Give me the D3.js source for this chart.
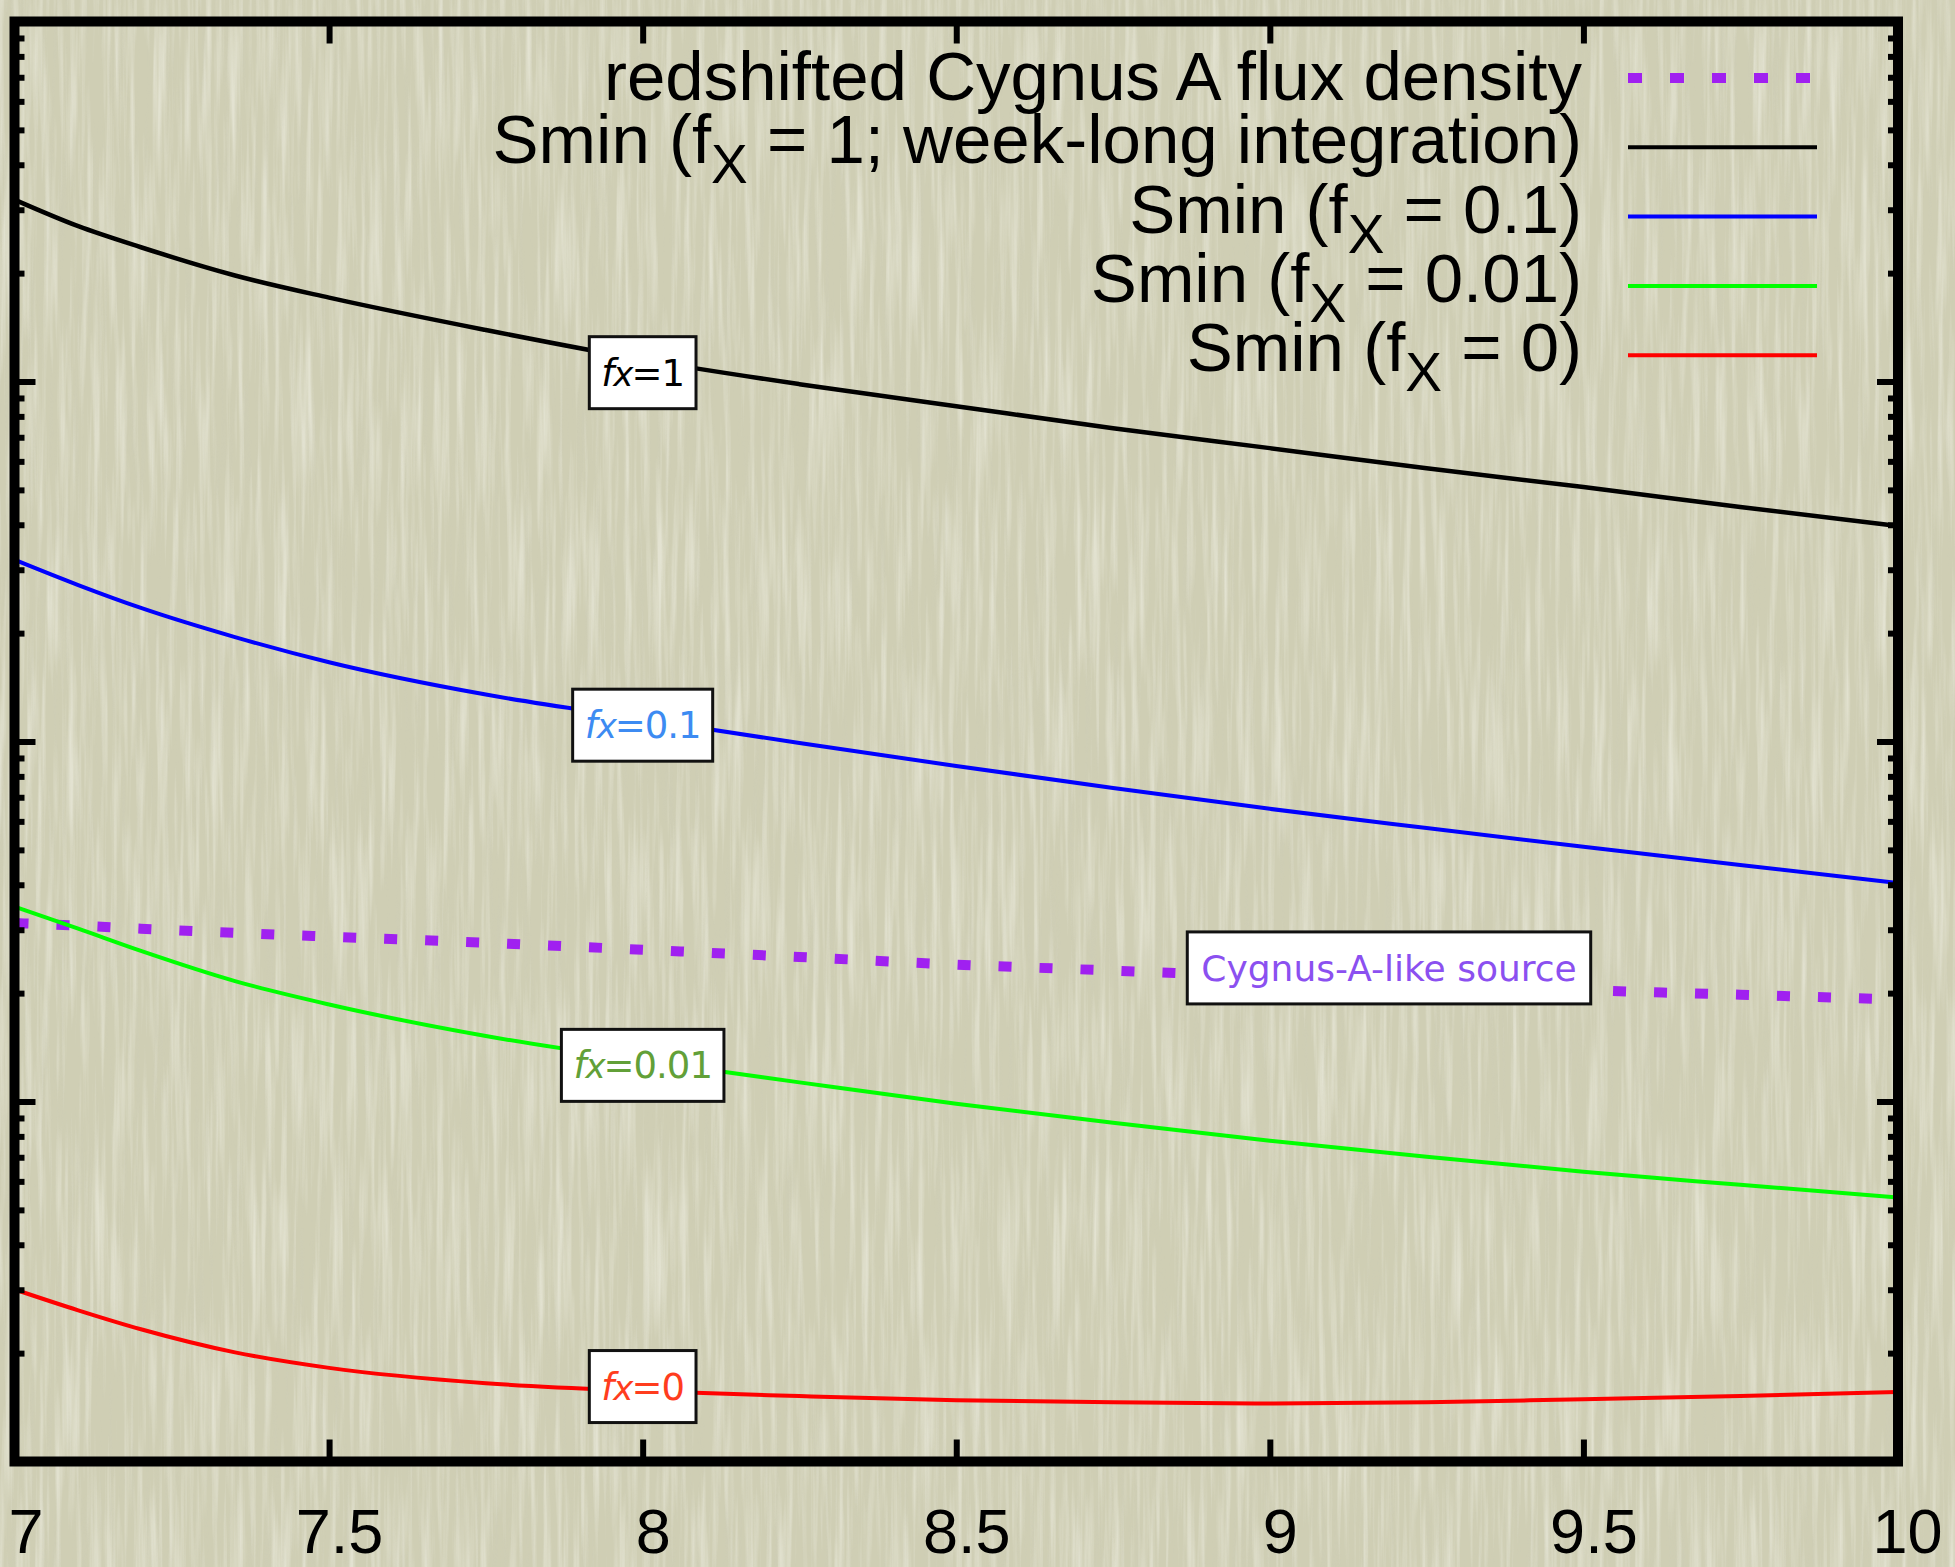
<!DOCTYPE html>
<html>
<head>
<meta charset="utf-8">
<script src="https://cdn.jsdelivr.net/npm/d3@7"></script>
<style>
  html, body { margin: 0; padding: 0; background: #cfceb4; }
  svg { display: block; }
</style>
</head>
<body>
<svg id="chart" width="1955" height="1567"></svg>
<script>
// Redshift grid shared by every curve
const redshift = [7.0, 7.1, 7.2, 7.35, 7.5, 7.75, 8.0, 8.25, 8.5, 8.75, 9.0, 9.25, 9.5, 9.75, 10.0];

// Flux densities (mJy) along the redshift grid
const cygnusFlux = [31.3, 30.8, 30.2, 29.4, 28.7, 27.6, 26.4, 25.2, 24.0, 23.1, 22.2, 21.4, 20.4, 19.8, 19.2];
const sminFx1    = [3190, 2700, 2360, 1970, 1710, 1390, 1150, 983, 854, 742, 653, 574, 509, 448, 397];
const sminFx01   = [319, 272, 235, 195, 166, 135, 115.5, 99, 85.5, 74.3, 65, 57.5, 51, 45.4, 40.5];
const sminFx001  = [34.7, 30.2, 26.2, 21.6, 18.6, 15.2, 13.0, 11.3, 9.86, 8.73, 7.78, 7.02, 6.38, 5.87, 5.41];
const sminFx0    = [3.00, 2.63, 2.33, 2.01, 1.82, 1.65, 1.57, 1.52, 1.48, 1.46, 1.45, 1.46, 1.49, 1.52, 1.56];

// Axis ticks
const xTicks = [7, 7.5, 8, 8.5, 9, 9.5, 10];
const xTickLabels = ["7", "7.5", "8", "8.5", "9", "9.5", "10"];
const yDomain = [1, 10000];
const yDecades = [1, 10, 100, 1000];

// Legend entries (text before subscript, subscript, text after)
const legendPre  = ["redshifted Cygnus A flux density", "Smin (f", "Smin (f", "Smin (f", "Smin (f"];
const legendSub  = ["", "X", "X", "X", "X"];
const legendPost = ["", " = 1; week-long integration)", " = 0.1)", " = 0.01)", " = 0)"];
const seriesColors = ["#a020f0", "#000000", "#0000ff", "#00ff00", "#ff0000"];

// Boxed curve tags
const tagNumbers  = ["1", "0.1", "0.01", "0"];
const tagColors   = ["#000000", "#3d8bf2", "#62a038", "#ff3d1e"];
const tagRedshift = [8.0, 8.0, 8.0, 8.0];
const tagFlux     = [1058, 111, 12.6, 1.615];
const sourceTag = "Cygnus-A-like source";
const sourceTagColor = "#8b50f0";
const sourceTagRedshift = 9.19;
const sourceTagFlux = 23.5;

(function draw() {
  const W = 1955, H = 1567;
  const fL = 14.5, fR = 1898, fT = 21.5, fB = 1461.5;

  const svg = d3.select("#chart");

  // Paper background with fine vertical grain
  const defs = svg.append("defs");
  const light = defs.append("filter").attr("id", "grainLight")
    .attr("x", 0).attr("y", 0).attr("width", 1).attr("height", 1);
  light.append("feTurbulence").attr("type", "fractalNoise")
    .attr("baseFrequency", "0.16 0.006").attr("numOctaves", 3).attr("seed", 11);
  light.append("feColorMatrix").attr("type", "matrix")
    .attr("values", "0 0 0 0 0.93  0 0 0 0 0.93  0 0 0 0 0.86  2.2 0 0 0 -0.95");
  const dark = defs.append("filter").attr("id", "grainDark")
    .attr("x", 0).attr("y", 0).attr("width", 1).attr("height", 1);
  dark.append("feTurbulence").attr("type", "fractalNoise")
    .attr("baseFrequency", "0.2 0.008").attr("numOctaves", 2).attr("seed", 3);
  dark.append("feColorMatrix").attr("type", "matrix")
    .attr("values", "0 0 0 0 0.6  0 0 0 0 0.6  0 0 0 0 0.5  2.0 0 0 0 -0.95");

  svg.append("rect").attr("width", W).attr("height", H).attr("fill", "#cfceb4");
  svg.append("rect").attr("width", W).attr("height", H).attr("filter", "url(#grainDark)").attr("opacity", 0.22);
  svg.append("rect").attr("width", W).attr("height", H).attr("filter", "url(#grainLight)").attr("opacity", 0.5);

  // Scales
  const x = d3.scaleLinear().domain([7, 10]).range([15.5, 1897]);
  const y = d3.scaleLog().domain(yDomain).range([fB, fT]);

  defs.append("clipPath").attr("id", "plotClip")
    .append("rect").attr("x", fL).attr("y", fT)
    .attr("width", fR - fL).attr("height", fB - fT);

  const line = d3.line()
    .x((d, i) => x(redshift[i]))
    .y(d => y(d))
    .curve(d3.curveMonotoneX);

  const plot = svg.append("g").attr("clip-path", "url(#plotClip)");

  // Cygnus A flux density (dotted), drawn first
  plot.append("path").datum(cygnusFlux)
    .attr("d", line).attr("fill", "none")
    .attr("stroke", seriesColors[0]).attr("stroke-width", 10)
    .attr("stroke-dasharray", "13 28");

  // Smin curves
  [sminFx1, sminFx01, sminFx001, sminFx0].forEach((s, k) => {
    plot.append("path").datum(s)
      .attr("d", line).attr("fill", "none")
      .attr("stroke", seriesColors[k + 1])
      .attr("stroke-width", k === 0 ? 4.5 : 4)
      .attr("stroke-linejoin", "round");
  });

  // Boxed tags on the curves
  function boxedTag(cx, cy, build, fontSize, pad) {
    const g = svg.append("g");
    const box = g.append("rect");
    const t = g.append("text")
      .attr("x", cx).attr("y", cy + 13)
      .attr("text-anchor", "middle")
      .attr("font-family", "'DejaVu Sans', Verdana, sans-serif")
      .attr("font-size", fontSize);
    build(t);
    const bb = t.node().getBBox();
    box.attr("x", cx - bb.width / 2 - pad).attr("y", cy - 36)
      .attr("width", bb.width + 2 * pad).attr("height", 72)
      .attr("fill", "#ffffff").attr("stroke", "#111").attr("stroke-width", 3);
  }

  tagNumbers.forEach((num, i) => {
    boxedTag(x(tagRedshift[i]), y(tagFlux[i]), t => {
      t.attr("fill", tagColors[i]);
      t.append("tspan").attr("font-style", "italic").text("f");
      t.append("tspan").attr("font-style", "italic").attr("font-size", 34).attr("dx", -1).text("x");
      t.append("tspan").attr("letter-spacing", -1).attr("dx", -2).text("=" + num);
    }, 37, 12);
  });

  boxedTag(x(sourceTagRedshift), y(sourceTagFlux), t => {
    t.attr("fill", sourceTagColor).text(sourceTag);
  }, 36, 14);

  // Axes: ticks point inward, only the bottom axis is labelled
  const minorTicks = [];
  yDecades.forEach(d => { for (let m = 2; m <= 9; m++) minorTicks.push(d * m); });

  function styleAxis(g) {
    g.select(".domain").remove();
    g.selectAll(".tick line").attr("stroke", "#000").attr("stroke-width", 6);
  }

  const xb = svg.append("g").attr("transform", `translate(0,${fB})`)
    .call(d3.axisBottom(x).tickValues(xTicks).tickSize(-22)
      .tickFormat((d, i) => xTickLabels[i]));
  styleAxis(xb);
  xb.selectAll(".tick text")
    .attr("y", 1553 - fB).attr("dy", null).attr("x", 10)
    .attr("fill", "#000")
    .attr("font-family", "'Liberation Sans', Arial, Helvetica, sans-serif")
    .attr("font-size", 63);

  const xt = svg.append("g").attr("transform", `translate(0,${fT})`)
    .call(d3.axisTop(x).tickValues(xTicks.slice(1, -1)).tickSize(-22).tickFormat(""));
  styleAxis(xt);

  const ylMaj = svg.append("g").attr("transform", `translate(${fL},0)`)
    .call(d3.axisLeft(y).tickValues(yDecades.slice(1)).tickSize(-21).tickFormat(""));
  styleAxis(ylMaj);
  const ylMin = svg.append("g").attr("transform", `translate(${fL},0)`)
    .call(d3.axisLeft(y).tickValues(minorTicks).tickSize(-10).tickFormat(""));
  styleAxis(ylMin);
  const yrMaj = svg.append("g").attr("transform", `translate(${fR},0)`)
    .call(d3.axisRight(y).tickValues(yDecades.slice(1)).tickSize(-21).tickFormat(""));
  styleAxis(yrMaj);
  const yrMin = svg.append("g").attr("transform", `translate(${fR},0)`)
    .call(d3.axisRight(y).tickValues(minorTicks).tickSize(-10).tickFormat(""));
  styleAxis(yrMin);

  // Plot frame
  svg.append("rect")
    .attr("x", fL).attr("y", fT)
    .attr("width", fR - fL).attr("height", fB - fT)
    .attr("fill", "none").attr("stroke", "#000").attr("stroke-width", 10);

  // Legend
  const legend = svg.append("g")
    .attr("font-family", "'Liberation Sans', Arial, Helvetica, sans-serif")
    .attr("font-size", 69).attr("fill", "#000");
  legendPre.forEach((pre, i) => {
    const rowY = 78 + i * 69.3;
    const hasSub = legendSub[i] !== "";
    const t = legend.append("text")
      .attr("x", 1582).attr("y", rowY + (hasSub ? 16 : 22))
      .attr("text-anchor", "end");
    t.append("tspan").text(pre);
    if (hasSub) {
      t.append("tspan").attr("font-size", 55).attr("dy", 20).text(legendSub[i]);
      t.append("tspan").attr("dy", -20).text(legendPost[i]);
    }
    const ln = legend.append("line")
      .attr("x1", 1628).attr("x2", 1817).attr("y1", rowY).attr("y2", rowY)
      .attr("stroke", seriesColors[i]);
    if (i === 0) ln.attr("stroke-width", 10).attr("stroke-dasharray", "14 28");
    else ln.attr("stroke-width", 4);
  });
})();
</script>
</body>
</html>
